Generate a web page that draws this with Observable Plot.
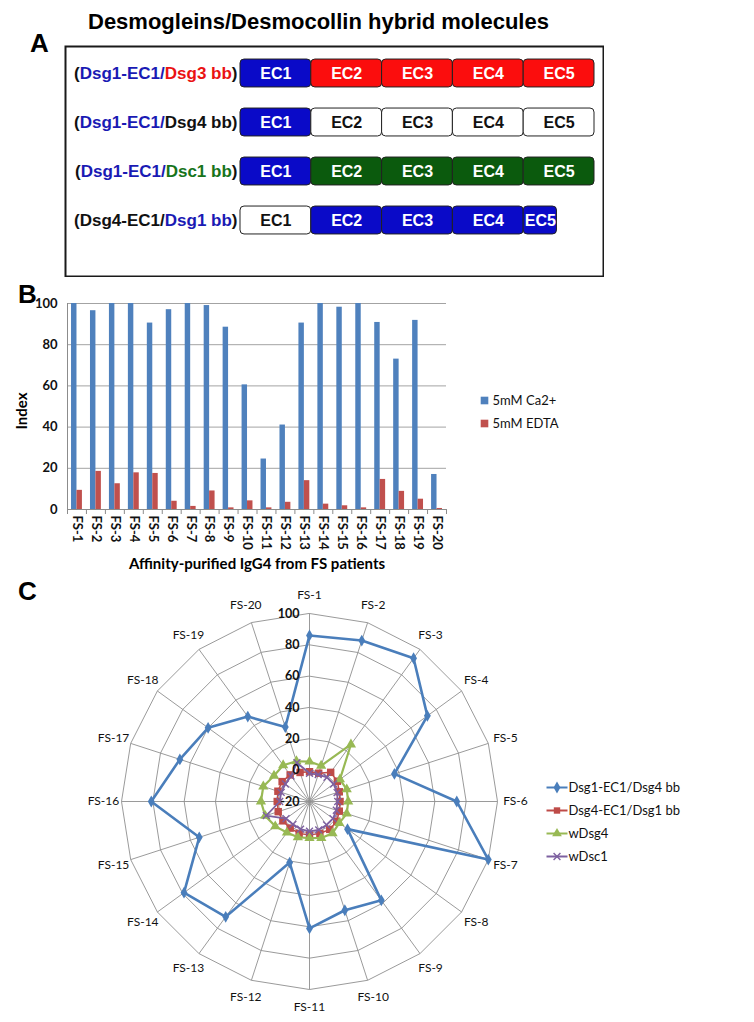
<!DOCTYPE html>
<html><head><meta charset="utf-8">
<script src="https://cdn.jsdelivr.net/npm/d3@7"></script>
<script src="https://cdn.jsdelivr.net/npm/@observablehq/plot@0.6"></script>
<style>
body{margin:0;background:#fff;}
#fig{position:relative;width:754px;height:1022px;overflow:hidden;background:#fff;font-family:"Liberation Sans",Arial,sans-serif;}
.abs{position:absolute;}
.abs svg{max-width:none !important;}
</style></head><body><div id="fig"></div>
<script>
// ---------- Panel A data ----------
const hybridLabels = ["(Dsg1-EC1/Dsg3 bb)", "(Dsg1-EC1/Dsg4 bb)", "(Dsg1-EC1/Dsc1 bb)", "(Dsg4-EC1/Dsg1 bb)"];
const labelParts = [
  [["(", ""], ["Dsg1-EC1/", "Dsg1"], ["Dsg3 bb", "Dsg3"], [")", ""]],
  [["(", ""], ["Dsg1-EC1/", "Dsg1"], ["Dsg4 bb)", ""]],
  [["(", ""], ["Dsg1-EC1/", "Dsg1"], ["Dsc1 bb", "Dsc1"], [")", ""]],
  [["(Dsg4-EC1/", ""], ["Dsg1 bb", "Dsg1"], [")", ""]]
];
const ecNames = ["EC1", "EC2", "EC3", "EC4", "EC5"];
const ecOrigin = [
  ["Dsg1", "Dsg3", "Dsg3", "Dsg3", "Dsg3"],
  ["Dsg1", "Dsg4", "Dsg4", "Dsg4", "Dsg4"],
  ["Dsg1", "Dsc1", "Dsc1", "Dsc1", "Dsc1"],
  ["Dsg4", "Dsg1", "Dsg1", "Dsg1", "Dsg1"]
];
const ecLength = [
  [1, 1, 1, 1, 1],
  [1, 1, 1, 1, 1],
  [1, 1, 1, 1, 1],
  [1, 1, 1, 1, 0.47]
];
const proteins = ["Dsg1", "Dsg3", "Dsg4", "Dsc1"];
const proteinFill = ["#0a0ac8", "#fb0d0d", "#ffffff", "#0b5a0d"];
const proteinTextColor = {"Dsg1": "#1a1ab4", "Dsg3": "#ea1212", "Dsc1": "#17741b", "": "#111111"};

// ---------- Panel B data ----------
const patients = ["FS-1", "FS-2", "FS-3", "FS-4", "FS-5", "FS-6", "FS-7", "FS-8", "FS-9", "FS-10",
                  "FS-11", "FS-12", "FS-13", "FS-14", "FS-15", "FS-16", "FS-17", "FS-18", "FS-19", "FS-20"];
const barSeries = ["5mM Ca2+", "5mM EDTA"];
const ca2Index = [100, 96.5, 100, 100, 90.5, 97, 100, 99, 88.5, 60.5, 24.5, 41, 90.5, 100, 98.2, 100, 90.8, 73, 91.8, 17];
const edtaIndex = [9.3, 18.5, 12.5, 17.8, 17.5, 4, 1.5, 9, 0.8, 4.2, 0.8, 3.5, 14, 2.6, 1.8, 0.8, 14.6, 8.8, 5, 0.5];
const barTicks = [0, 20, 40, 60, 80, 100];
const barColors = ["#4f81bd", "#c0504d"];

// ---------- Panel C data ----------
const radarSeries = ["Dsg1-EC1/Dsg4 bb", "Dsg4-EC1/Dsg1 bb", "wDsg4", "wDsc1"];
const dsg1Ec1Dsg4 = [86, 88, 93, 73, 37, 74, 100, 10, 58, 53, 61, 21, 71, 79, 54, 81, 67, 60, 47, 30];
const dsg4Ec1Dsg1 = [-1, -1, 3, 2, 0, -0.5, 0, 1.5, 2, 1.5, 1.3, 1.4, 1, 1, 1, 0.6, 1.2, 1.6, 1, -0.5];
const wDsg4 = [5.5, 4, 25, 4, 5, 4.7, 5, 3.5, 5, 4.5, 3.4, 4, 4.5, 7, 9.7, 11, 11, 8, 8.6, 7];
const wDsc1 = [-2, -2, -1, -1, -1.5, -2, -2, -1.5, -1.5, -1, -1, -1.5, -2, -1.5, 9, -1, -1, -1, 0, 6];
const radarTicks = [-20, 0, 20, 40, 60, 80, 100];
const radarColors = ["#4a7ebb", "#be4b48", "#98b954", "#7d60a0"];
const radarSymbols = ["diamond", "square", "triangle", "times"];

// ---------- helpers ----------
const fig = document.getElementById("fig");
function place(el, left, top, w, h) {
  const d = document.createElement("div");
  d.className = "abs";
  d.style.left = left + "px";
  d.style.top = top + "px";
  d.style.width = w + "px";
  d.style.height = h + "px";
  el.style.maxWidth = "none";
  el.style.width = w + "px";
  el.style.height = h + "px";
  d.appendChild(el);
  fig.appendChild(d);
  return d;
}
function html(str, left, top, css) {
  const d = document.createElement("div");
  d.className = "abs";
  d.style.left = left + "px";
  d.style.top = top + "px";
  d.style.cssText += css || "";
  d.textContent = str;
  fig.appendChild(d);
  return d;
}

// ---------- Panel A ----------
const segments = [];
hybridLabels.forEach((lab, r) => {
  let s = 0;
  ecNames.forEach((ec, j) => {
    const len = ecLength[r][j];
    segments.push({row: r, ec, origin: ecOrigin[r][j], x1: s, x2: s + len});
    s += len;
  });
});
const plotA = Plot.plot({
  width: 540, height: 232, margin: 0,
  x: {domain: [0, 5], range: [176, 530], axis: null},
  y: {domain: [0, 3], range: [28, 175], axis: null},
  color: {domain: proteins, range: proteinFill},
  style: {fontFamily: "'Liberation Sans', Arial, sans-serif", background: "white"},
  marks: [
    Plot.frame({stroke: "#1a1a1a", strokeWidth: 2, inset: 1}),
    Plot.rect(segments, {x1: "x1", x2: "x2", y1: d => d.row - 0.285, y2: d => d.row + 0.285,
      fill: "origin", stroke: "#222", strokeWidth: 1, rx: 4}),
    Plot.text(segments.filter(d => d.origin !== "Dsg4"), {x: d => (d.x1 + d.x2) / 2, y: "row", text: "ec",
      fill: "white", fontWeight: "bold", fontSize: 16}),
    Plot.text(segments.filter(d => d.origin === "Dsg4"), {x: d => (d.x1 + d.x2) / 2, y: "row", text: "ec",
      fill: "#111", fontWeight: "bold", fontSize: 16}),
    Plot.text(hybridLabels, {x: 0, y: (d, i) => i, text: d => d, textAnchor: "end", dx: -3,
      fontWeight: "bold", fontSize: 17, fill: "#111"})
  ]
});
d3.select(plotA).selectAll("text").each(function () {
  const i = hybridLabels.indexOf(this.textContent);
  if (i < 0) return;
  const t = d3.select(this);
  t.text(null);
  labelParts[i].forEach(([s, p]) => t.append("tspan").attr("fill", proteinTextColor[p]).text(s));
});
place(plotA, 64, 45, 540, 232);
html("A", 30, 30, "font-weight:bold;font-size:26px;line-height:1;");
html("Desmogleins/Desmocollin hybrid molecules", 88, 9, "font-weight:bold;font-size:22px;line-height:1.2;white-space:nowrap;");

// ---------- Panel B ----------
const barData = patients.flatMap((p, i) => [
  {i, patient: p, series: barSeries[0], value: ca2Index[i], k: 0},
  {i, patient: p, series: barSeries[1], value: edtaIndex[i], k: 1}
]);
const barW = 0.2875, barGap = 0.2125;
const plotB = Plot.plot({
  width: 460, height: 285, marginLeft: 67, marginRight: 14, marginTop: 13, marginBottom: 66,
  x: {domain: [0, patients.length]},
  y: {domain: [0, 100]},
  color: {domain: barSeries, range: barColors},
  style: {fontFamily: "Lato, 'Open Sans', sans-serif", background: "white", color: "#111"},
  marks: [
    Plot.ruleY(barTicks.slice(1), {stroke: "#a3a3a3", strokeWidth: 1}),
    Plot.rectY(barData, {x1: d => d.i + barGap + d.k * barW, x2: d => d.i + barGap + (d.k + 1) * barW,
      y: "value", fill: "series"}),
    Plot.ruleY([0], {stroke: "#8c8c8c"}),
    Plot.ruleX([0], {stroke: "#8c8c8c"}),
    Plot.axisX({ticks: d3.range(patients.length + 1), tickSize: 5, tickFormat: () => "", stroke: "#8c8c8c", label: null}),
    Plot.axisX({ticks: patients.map((p, i) => i + 0.5), tickFormat: t => patients[Math.floor(t)],
      tickSize: 0, tickRotate: 90, tickPadding: 6, fontWeight: "bold", fontSize: 13, label: null}),
    Plot.axisY({ticks: barTicks, tickSize: 0, tickPadding: 10, fontWeight: "bold", fontSize: 13, label: null})
  ]
});
place(plotB, 0, 290, 460, 285);
html("B", 18, 281, "font-weight:bold;font-size:26px;line-height:1;");
html("Index", 21, 411, "font-family:Lato,sans-serif;font-weight:bold;font-size:15px;transform:translate(-50%,-50%) rotate(-90deg);");
html("Affinity-purified IgG4 from FS patients", 257, 563, "font-family:Lato,sans-serif;font-weight:bold;font-size:15px;transform:translate(-50%,-50%);white-space:nowrap;");

const legendB = Plot.plot({
  width: 130, height: 50, margin: 0,
  x: {domain: [0, 1], range: [6, 120], axis: null},
  y: {type: "point", domain: barSeries, range: [12, 35], padding: 0, axis: null},
  color: {domain: barSeries, range: barColors},
  style: {fontFamily: "Lato, sans-serif", background: "transparent", color: "#111"},
  marks: [
    Plot.dot(barSeries, {x: 0, y: d => d, fill: d => d, symbol: "square", r: 4.3}),
    Plot.text(barSeries, {x: 0, y: d => d, text: d => d, textAnchor: "start", dx: 8, fontSize: 13})
  ]
});
place(legendB, 478, 388, 130, 50);

// ---------- Panel C ----------
const rMin = radarTicks[0];
const nCat = patients.length;
const ang = i => i / nCat * 2 * Math.PI;
const px = (v, i) => (v - rMin) * Math.sin(ang(i));
const py = (v, i) => (v - rMin) * Math.cos(ang(i));
const radarValues = [dsg1Ec1Dsg4, dsg4Ec1Dsg1, wDsg4, wDsc1];
const radarData = radarSeries.flatMap((s, k) => radarValues[k].map((v, i) => ({series: s, k, i, v, x: px(v, i), y: py(v, i)})));
const rings = radarTicks.slice(1).flatMap(t => patients.map((p, i) => ({t, x: px(t, i), y: py(t, i)})));
const rMax = radarTicks[radarTicks.length - 1];
const spokes = patients.map((p, i) => ({x1: 0, y1: 0, x2: px(rMax, i), y2: py(rMax, i)}));
const kpx = 188 / (rMax - rMin); // px per unit
const RW = 500, RH = 447, RCX = 249, RCY = 226;
const labelR = 206 / kpx + rMin;
const radarMarks = [
  Plot.line(rings, {x: "x", y: "y", z: "t", curve: "linear-closed", stroke: "#8e8e8e", strokeWidth: 0.9}),
  Plot.link(spokes, {x1: "x1", y1: "y1", x2: "x2", y2: "y2", stroke: "#8e8e8e", strokeWidth: 0.9})
];
const lineWidths = [2.6, 1.5, 2.2, 1.8];
const dotR = [3.6, 4.2, 3.8, 3.2];
radarSeries.forEach((s, k) => {
  const d = radarData.filter(e => e.k === k);
  radarMarks.push(Plot.line(d, {x: "x", y: "y", curve: "linear-closed", stroke: "series", strokeWidth: lineWidths[k]}));
  if (radarSymbols[k] === "times") {
    radarMarks.push(Plot.dot(d, {x: "x", y: "y", symbol: radarSymbols[k], stroke: "series", r: dotR[k], strokeWidth: 1.4}));
  } else {
    radarMarks.push(Plot.dot(d, {x: "x", y: "y", symbol: radarSymbols[k], fill: "series", r: dotR[k]}));
  }
});
radarMarks.push(Plot.text(radarTicks, {x: 0, y: t => t - rMin, text: t => String(t), textAnchor: "end", dx: -10,
  fontWeight: "bold", fontSize: 12.5, fill: "#111"}));
radarMarks.push(Plot.text(patients, {x: (p, i) => px(labelR, i), y: (p, i) => py(labelR, i), text: d => d,
  fontSize: 12, fill: "#111"}));
const plotC = Plot.plot({
  width: RW, height: RH, margin: 0,
  x: {domain: [-RCX / kpx, (RW - RCX) / kpx], axis: null},
  y: {domain: [-(RH - RCY) / kpx, RCY / kpx], axis: null},
  color: {domain: radarSeries, range: radarColors},
  style: {fontFamily: "Lato, 'Open Sans', sans-serif", background: "transparent"},
  marks: radarMarks
});
place(plotC, 60, 575, RW, RH);
html("C", 18, 578, "font-weight:bold;font-size:26px;line-height:1;");

const legendC = Plot.plot({
  width: 190, height: 100, margin: 0,
  x: {domain: [0, 1], range: [6, 27], axis: null},
  y: {type: "point", domain: radarSeries, range: [12, 81], padding: 0, axis: null},
  color: {domain: radarSeries, range: radarColors},
  symbol: {domain: radarSeries, range: radarSymbols},
  style: {fontFamily: "Lato, 'Open Sans', sans-serif", background: "transparent", color: "#111"},
  marks: [
    Plot.link(radarSeries, {x1: 0, x2: 1, y1: d => d, y2: d => d, stroke: d => d, strokeWidth: 2}),
    Plot.dot(radarSeries.filter(s => s !== "wDsc1"), {x: 0.5, y: d => d, fill: d => d, symbol: d => d, r: 3.6}),
    Plot.dot(["wDsc1"], {x: 0.5, y: d => d, stroke: d => d, symbol: d => d, r: 3.2, strokeWidth: 1.4}),
    Plot.text(radarSeries, {x: 1, y: d => d, text: d => d, textAnchor: "start", dx: 1, fontSize: 13})
  ]
});
place(legendC, 540, 775, 190, 100);
</script></body></html>
